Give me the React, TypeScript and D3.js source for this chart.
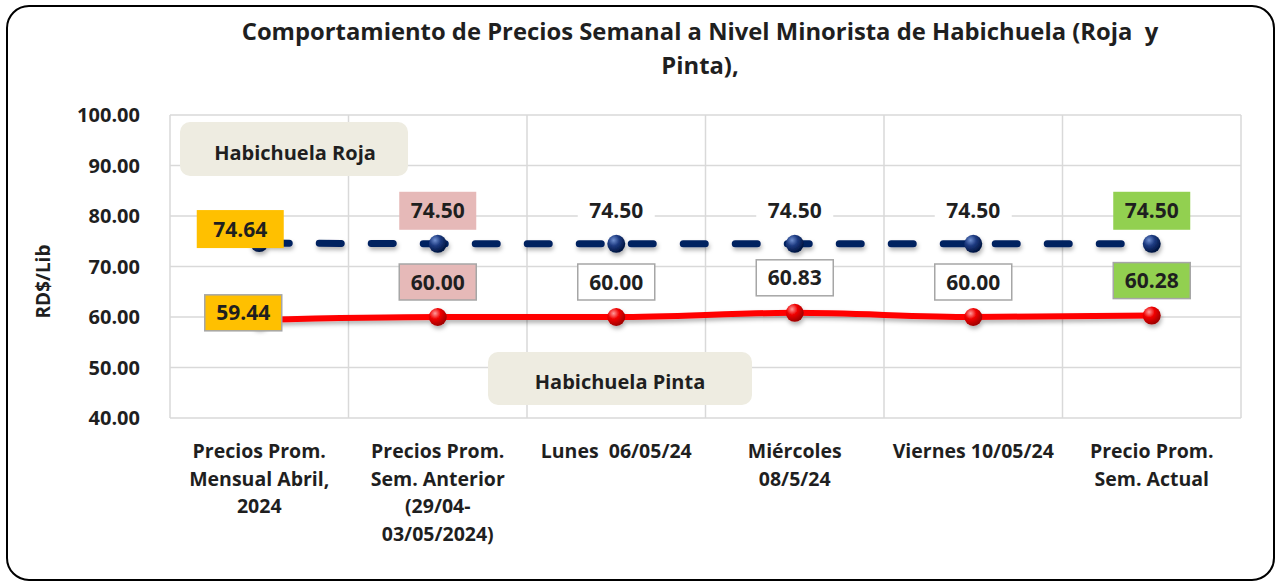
import * as d3 from "d3";

const categories = [
  ["Precios Prom.", "Mensual Abril,", "2024"],
  ["Precios Prom.", "Sem. Anterior", "(29/04-", "03/05/2024)"],
  ["Lunes \u00a006/05/24"],
  ["Miércoles", "08/5/24"],
  ["Viernes 10/05/24"],
  ["Precio Prom.", "Sem. Actual"],
];
const rojaValues = [74.64, 74.5, 74.5, 74.5, 74.5, 74.5];
const pintaValues = [59.44, 60.0, 60.0, 60.83, 60.0, 60.28];
const yTicks = [40, 50, 60, 70, 80, 90, 100];
// label fill per category (Excel highlights)
const labelFills = ["#FFC000", "#E6B9B8", "#FFFFFF", "#FFFFFF", "#FFFFFF", "#92D050"];

const W = 1276;
const H = 584;
const FONT = "'Open Sans', 'Noto Sans', sans-serif";
const TEXT = "#1f1f1f";

export default function App() {
  const plot = { left: 170, right: 1241, top: 115, bottom: 418 };
  const x = d3
    .scaleBand<number>()
    .domain(categories.map((_, i) => i))
    .range([plot.left, plot.right]);
  const y = d3.scaleLinear().domain([40, 100]).range([plot.bottom, plot.top]);
  const cx = (i: number) => (x(i) ?? 0) + x.bandwidth() / 2;

  const rojaLine = d3
    .line<number>()
    .x((_, i) => cx(i))
    .y((d) => y(d));
  const pintaLine = d3
    .line<number>()
    .x((_, i) => cx(i))
    .y((d) => y(d))
    .curve(d3.curveMonotoneX);

  const boxW = 77;
  const boxH = 38;

  return (
    <div style={{ position: "absolute", left: 0, top: 0 }}>
      <svg width={W} height={H} style={{ display: "block", background: "#fff" }} fontFamily={FONT}>
        <defs>
          <radialGradient id="gBlue" cx="35%" cy="30%" r="70%">
            <stop offset="0%" stopColor="#6f8fd0" />
            <stop offset="45%" stopColor="#1d3a80" />
            <stop offset="100%" stopColor="#001540" />
          </radialGradient>
          <radialGradient id="gRed" cx="35%" cy="30%" r="70%">
            <stop offset="0%" stopColor="#ff9a9a" />
            <stop offset="45%" stopColor="#f00000" />
            <stop offset="100%" stopColor="#a00000" />
          </radialGradient>
          <filter id="shadow" x="-10%" y="-50%" width="120%" height="200%">
            <feDropShadow dx="1" dy="3" stdDeviation="2" floodColor="#000" floodOpacity="0.3" />
          </filter>
        </defs>

        {/* outer frame */}
        <rect x={7} y={6} width={1267} height={574} rx={22} fill="#fff" stroke="#000" strokeWidth={2} />

        {/* title */}
        <text x={700} y={40} textAnchor="middle" fontSize={23.8} fontWeight="bold" fill={TEXT}>
          {"Comportamiento de Precios Semanal a Nivel Minorista de Habichuela (Roja \u00a0y"}
        </text>
        <text x={700} y={74} textAnchor="middle" fontSize={23.8} fontWeight="bold" fill={TEXT}>
          Pinta),
        </text>

        {/* grid */}
        {yTicks.map((t) => (
          <line key={t} x1={plot.left} x2={plot.right} y1={y(t)} y2={y(t)} stroke="#d9d9d9" strokeWidth={1.5} />
        ))}
        {categories.map((_, i) => (
          <line key={i} x1={x(i)} x2={x(i)} y1={plot.top} y2={plot.bottom} stroke="#d9d9d9" strokeWidth={1.5} />
        ))}
        <line x1={plot.right} x2={plot.right} y1={plot.top} y2={plot.bottom} stroke="#d9d9d9" strokeWidth={1.5} />

        {/* y axis ticks */}
        {yTicks.map((t) => (
          <text key={t} x={140} y={y(t) + 7} textAnchor="end" fontSize={20} fontWeight="bold" fill={TEXT}>
            {d3.format(".2f")(t)}
          </text>
        ))}
        <text transform={`translate(50,${(plot.top + plot.bottom) / 2 + 15}) rotate(-90)`} textAnchor="middle" fontSize={19} fontWeight="bold" fill={TEXT}>
          RD$/Lib
        </text>

        {/* x category labels */}
        {categories.map((lines, i) => (
          <text key={i} textAnchor="middle" fontSize={19.5} fontWeight="bold" fill={TEXT}>
            {lines.map((l, j) => (
              <tspan key={j} x={cx(i)} y={458 + j * 27.5}>
                {l}
              </tspan>
            ))}
          </text>
        ))}

        {/* series annotations */}
        <rect x={180} y={122} width={228} height={54} rx={10} fill="#EEECE1" />
        <text x={295} y={160} textAnchor="middle" fontSize={20} fontWeight="bold" fill={TEXT}>
          Habichuela Roja
        </text>
        <rect x={488} y={352} width={264} height={53} rx={10} fill="#EEECE1" />
        <text x={620} y={389} textAnchor="middle" fontSize={20} fontWeight="bold" fill={TEXT}>
          Habichuela Pinta
        </text>

        {/* Pinta line */}
        <g filter="url(#shadow)">
          <path d={pintaLine(pintaValues) ?? ""} fill="none" stroke="#ff0000" strokeWidth={6} strokeLinecap="round" />
          {pintaValues.map((v, i) => (
            <circle key={i} cx={cx(i)} cy={y(v)} r={9} fill="url(#gRed)" />
          ))}
        </g>

        {/* Roja line */}
        <g filter="url(#shadow)">
          <path
            d={rojaLine(rojaValues) ?? ""}
            fill="none"
            stroke="#002060"
            strokeWidth={7}
            strokeLinecap="round"
            strokeDasharray="22 30"
            strokeDashoffset={-8}
          />
          {rojaValues.map((v, i) => (
            <circle key={i} cx={cx(i)} cy={y(v)} r={9} fill="url(#gBlue)" />
          ))}
        </g>

        {/* Roja labels */}
        {rojaValues.map((v, i) => {
          const lx = cx(i) + (i === 0 ? -24 : 0);
          const ly = y(v) + (i === 0 ? -14 : -33);
          return (
            <g key={i}>
              <rect x={lx - boxW / 2} y={ly - boxH / 2} width={boxW + (i === 0 ? 10 : 0)} height={boxH} fill={labelFills[i]} />
              <text x={lx + (i === 0 ? 5 : 0)} y={ly + 7.5} textAnchor="middle" fontSize={21} fontWeight="bold" fill={TEXT}>
                {d3.format(".2f")(v)}
              </text>
            </g>
          );
        })}

        {/* Pinta labels */}
        {pintaValues.map((v, i) => {
          const lx = cx(i) + (i === 0 ? -16 : 0);
          const ly = y(v) + (i === 0 ? -7 : -35);
          return (
            <g key={i}>
              <rect
                x={lx - boxW / 2}
                y={ly - boxH / 2 + 1}
                width={boxW}
                height={boxH - 2}
                fill={labelFills[i]}
                stroke="#a6a6a6"
                strokeWidth={1.5}
              />
              <text x={lx} y={ly + 7.5} textAnchor="middle" fontSize={21} fontWeight="bold" fill={TEXT}>
                {d3.format(".2f")(v)}
              </text>
            </g>
          );
        })}
      </svg>
    </div>
  );
}
